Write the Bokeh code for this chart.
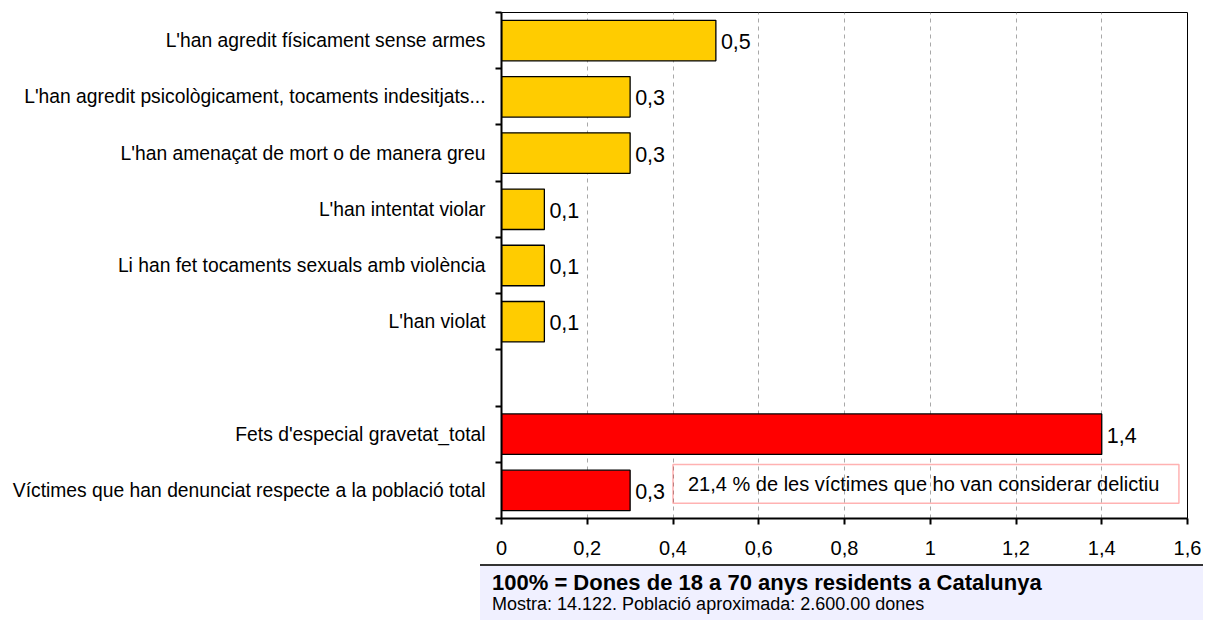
from bokeh.plotting import figure
from bokeh.models import Range1d, FixedTicker, ColumnDataSource, BoxAnnotation, Label, Div
from bokeh.layouts import column
from bokeh.core.properties import value
from bokeh.embed import file_html
from bokeh.resources import INLINE

# ---------------- data ----------------
categories = [
    "L'han agredit físicament sense armes",
    "L'han agredit psicològicament, tocaments indesitjats...",
    "L'han amenaçat de mort o de manera greu",
    "L'han intentat violar",
    "Li han fet tocaments sexuals amb violència",
    "L'han violat",
    "",
    "Fets d'especial gravetat_total",
    "Víctimes que han denunciat respecte a la població total",
]
values = [0.5, 0.3, 0.3, 0.1, 0.1, 0.1, None, 1.4, 0.3]
value_labels = ["0,5", "0,3", "0,3", "0,1", "0,1", "0,1", "", "1,4", "0,3"]
bar_colors = ["#FFCC00"] * 6 + [None] + ["#FF0000", "#FF0000"]

x_ticks = [0, 0.2, 0.4, 0.6, 0.8, 1.0, 1.2, 1.4, 1.6]
x_tick_labels = ["0", "0,2", "0,4", "0,6", "0,8", "1", "1,2", "1,4", "1,6"]

note_text = "21,4 % de les víctimes que ho van considerar delictiu"
footer_title = "100% = Dones de 18 a 70 anys residents a Catalunya"
footer_sub = "Mostra: 14.122. Població aproximada: 2.600.00 dones"

FONT = "Liberation Sans"

# ---------------- positions ----------------
n = len(categories)
centers = [n - i - 0.5 for i in range(n)]
boundaries = list(range(n + 1))

ys, vs, ls, cs = [], [], [], []
for c, v, l, col in zip(centers, values, value_labels, bar_colors):
    if v is None:
        continue
    ys.append(c); vs.append(v); ls.append(l); cs.append(col)
src = ColumnDataSource(dict(y=ys, value=vs, label=ls, color=cs))

p = figure(width=1203, height=564,
           x_range=Range1d(0, 1.6), y_range=Range1d(0, n),
           output_backend="svg", toolbar_location=None,
           min_border_left=501, min_border_right=16,
           min_border_top=12, min_border_bottom=46)
p.outline_line_color = "black"
p.outline_line_width = 1
p.background_fill_color = "white"
p.border_fill_color = "white"

# x axis
xt = FixedTicker(ticks=x_ticks)
p.xaxis.ticker = xt
p.xaxis.major_label_overrides = {t: l for t, l in zip(x_ticks, x_tick_labels)}
p.xaxis.major_label_text_font = FONT
p.xaxis.major_label_text_font_size = "20px"
p.xaxis.major_label_text_color = "black"
p.xaxis.major_tick_out = 6
p.xaxis.major_tick_in = 0
p.xaxis.major_tick_line_width = 2
p.xaxis.minor_tick_line_color = None
p.xaxis.axis_line_width = 2
p.xaxis.axis_line_color = "black"
p.xaxis.major_label_standoff = 16

# y axis
yt = FixedTicker(ticks=centers, minor_ticks=boundaries)
p.yaxis.ticker = yt
p.yaxis.major_label_overrides = {c: lab for c, lab in zip(centers, categories)}
p.yaxis.major_label_text_font = FONT
p.yaxis.major_label_text_font_size = "19.3px"
p.yaxis.major_label_text_color = "black"
p.yaxis.major_tick_out = 0
p.yaxis.major_tick_in = 0
p.yaxis.minor_tick_out = 6
p.yaxis.minor_tick_in = 0
p.yaxis.minor_tick_line_width = 2
p.yaxis.minor_tick_line_color = "black"
p.yaxis.axis_line_width = 2
p.yaxis.axis_line_color = "black"
p.yaxis.major_label_standoff = 10

# grid
p.xgrid.ticker = xt
p.xgrid.grid_line_color = "#A8A8A8"
p.xgrid.grid_line_dash = "4 4"
p.xgrid.grid_line_width = 1
p.ygrid.visible = False

# bars
p.hbar(y="y", left=0, right="value", height=0.72, source=src,
       fill_color="color", line_color="black", line_width=1.3)

p.text(x="value", y="y", text="label", source=src, x_offset=5, y_offset=1,
       text_baseline="middle", text_align="left",
       text_font=value(FONT), text_font_size="21.5px", text_color="black")

# note box
box = BoxAnnotation(left=0.4, right=1.58, bottom=0.27, top=0.96,
                    fill_alpha=0, line_color="#FF0000", line_width=1.5)
p.add_layout(box)
p.add_layout(Label(x=0.4, y=0.615, x_offset=15, text=note_text,
                   text_baseline="middle", text_align="left",
                   text_font=FONT, text_font_size="20px", text_color="black"))

footer = Div(
    text=(
        '<div style="box-sizing:border-box;width:723px;height:56px;'
        'background:#F0F0FF;border-top:2px solid #333333;'
        'padding:5px 0 0 12px;font-family:\'Liberation Sans\';color:#000;">'
        f'<div style="font-weight:bold;font-size:22px;line-height:23px;">{footer_title}</div>'
        f'<div style="font-size:18px;line-height:21px;">{footer_sub}</div>'
        '</div>'
    ),
    width=723, height=56, margin=(0, 0, 0, 480),
)

layout = column(p, footer, spacing=0)
open("out.html", "w").write(file_html(layout, INLINE))
